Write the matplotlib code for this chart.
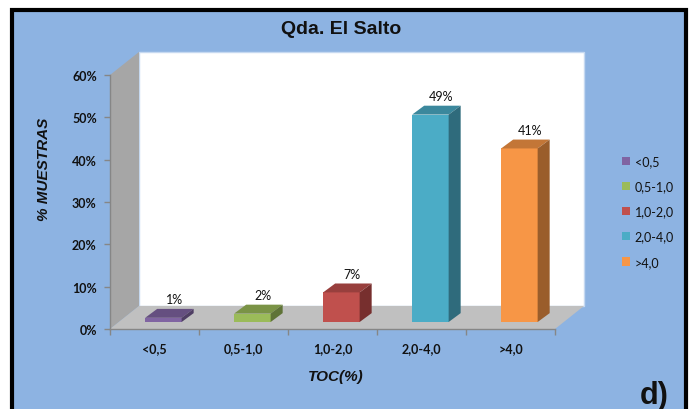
#!/usr/bin/env python3

from matplotlib import pyplot as plt
from matplotlib.patches import Patch, Polygon, Rectangle

CATEGORIES = ['<0,5', '0,5-1,0', '1,0-2,0', '2,0-4,0', '>4,0']
VALUES = [1, 2, 7, 49, 41]
Y_TICKS = [0, 10, 20, 30, 40, 50, 60]

FRONT_COLORS = ['#8064A2', '#9BBB59', '#C0504D', '#4BACC6', '#F79646']
TOP_COLORS = ['#654F80', '#7A9346', '#983F3D', '#3B889D', '#C37637']
SIDE_COLORS = ['#4F3E64', '#5F7337', '#772F2E', '#2F6B7C', '#9A5D2B']

BACKGROUND = '#8DB3E2'
AXIS_GRAY = '#868686'
TEXT_FONT = ['Lato', 'DejaVu Sans']
HEAD_FONT = ['Liberation Sans', 'DejaVu Sans']

# Oblique offsets of the 3D box, in data units (categories, percent).
WALL_DX = 0.326
WALL_DY = 5.45
BAR_DX = 0.135
BAR_DY = 2.1
BAR_WIDTH = 0.41
BAR_SHIFT_X = 0.10
BAR_SHIFT_Y = 1.65


def draw_box(ax):
  n = len(CATEGORIES)
  ax.add_patch(Rectangle((WALL_DX, WALL_DY), n, 60, facecolor='white', edgecolor='#C6D9F1',
                         linewidth=1.0, zorder=1, clip_on=False))
  ax.add_patch(Polygon([(0, 0), (WALL_DX, WALL_DY), (WALL_DX, 60 + WALL_DY), (0, 60)],
                       facecolor='#A6A6A6', edgecolor='none', zorder=2, clip_on=False))
  ax.add_patch(Polygon([(0, 0), (n, 0), (n + WALL_DX, WALL_DY), (WALL_DX, WALL_DY)],
                       facecolor='#C0C0C0', edgecolor='none', zorder=2, clip_on=False))


def draw_bars(ax):
  handles = []
  for i, value in enumerate(VALUES):
    center = i + 0.5 + BAR_SHIFT_X
    left = center - BAR_WIDTH / 2
    right = center + BAR_WIDTH / 2
    top = BAR_SHIFT_Y + value

    ax.bar(center, value, width=BAR_WIDTH, bottom=BAR_SHIFT_Y, color=FRONT_COLORS[i],
           zorder=4, clip_on=False)
    ax.add_patch(Polygon([(left, top), (right, top), (right + BAR_DX, top + BAR_DY), (left + BAR_DX, top + BAR_DY)],
                         facecolor=TOP_COLORS[i], edgecolor='none', zorder=4, clip_on=False))
    ax.add_patch(Polygon([(right, BAR_SHIFT_Y), (right + BAR_DX, BAR_SHIFT_Y + BAR_DY),
                          (right + BAR_DX, top + BAR_DY), (right, top)],
                         facecolor=SIDE_COLORS[i], edgecolor='none', zorder=4, clip_on=False))

    ax.annotate(f'{value}%', (center + BAR_DX / 2, top), xytext=(3.5, 13.5), textcoords='offset points',
                ha='center', va='center', fontsize=9, color='#111111', family=TEXT_FONT, zorder=5)
    handles.append(Patch(facecolor=FRONT_COLORS[i], label=CATEGORIES[i]))
  return handles


def main():
  fig = plt.figure(figsize=(6.9, 4.1), dpi=100, facecolor='white')

  # Chart frame, its lower edge runs past the bottom of the figure.
  fig.add_artist(Rectangle((12 / 690, -0.05), 674 / 690, 1.05 - 10.5 / 410, transform=fig.transFigure,
                           facecolor=BACKGROUND, edgecolor='black', linewidth=3.0, zorder=-1))

  ax = fig.add_axes([110 / 690, 80 / 410, 445 / 690, 254 / 410])
  ax.patch.set_visible(False)
  ax.set_xlim(0, len(CATEGORIES))
  ax.set_ylim(0, 60)

  draw_box(ax)
  handles = draw_bars(ax)

  ax.set_yticks(Y_TICKS)
  ax.set_yticklabels([f'{t}%' for t in Y_TICKS], fontsize=9, fontweight='bold', family=TEXT_FONT, color='#111111')
  ax.set_xticks(range(len(CATEGORIES) + 1))
  ax.set_xticklabels([])
  ax.set_xticks([i + 0.5 for i in range(len(CATEGORIES))], minor=True)
  ax.set_xticklabels(CATEGORIES, minor=True, fontsize=9, fontweight='bold', family=TEXT_FONT, color='#111111')
  ax.tick_params(axis='both', which='major', length=4, width=1.0, color=AXIS_GRAY, zorder=6)
  ax.tick_params(axis='x', which='minor', length=0, pad=9.5)
  ax.tick_params(axis='y', pad=5.5)

  for side in ['top', 'right']:
    ax.spines[side].set_visible(False)
  for side in ['left', 'bottom']:
    ax.spines[side].set_color(AXIS_GRAY)
    ax.spines[side].set_linewidth(1.0)
    ax.spines[side].set_zorder(6)

  fig.text(341 / 690, 1 - 29.5 / 410, 'Qda. El Salto', ha='center', va='center', fontsize=14,
           fontweight='bold', family=HEAD_FONT, color='#111111')
  fig.text(44 / 690, 1 - 169 / 410, '% MUESTRAS', ha='center', va='center', rotation=90, fontsize=11,
           fontweight='bold', fontstyle='italic', family=HEAD_FONT, color='#111111')
  fig.text(336 / 690, 1 - 377 / 410, 'TOC(%)', ha='center', va='center', fontsize=11,
           fontweight='bold', fontstyle='italic', family=HEAD_FONT, color='#111111')
  fig.text(654 / 690, 1 - 396 / 410, 'd)', ha='center', va='center', fontsize=22,
           fontweight='bold', family=HEAD_FONT, color='#111111')

  fig.legend(handles=handles, loc='center left', bbox_to_anchor=(622 / 690, 1 - 212.5 / 410), frameon=False,
             prop={'family': TEXT_FONT, 'size': 9}, labelcolor='#111111', handlelength=0.65, handleheight=0.65,
             handletextpad=0.35, labelspacing=1.05, borderpad=0, borderaxespad=0)

  fig.savefig('out.png', dpi=100)


if __name__ == "__main__":
  main()
